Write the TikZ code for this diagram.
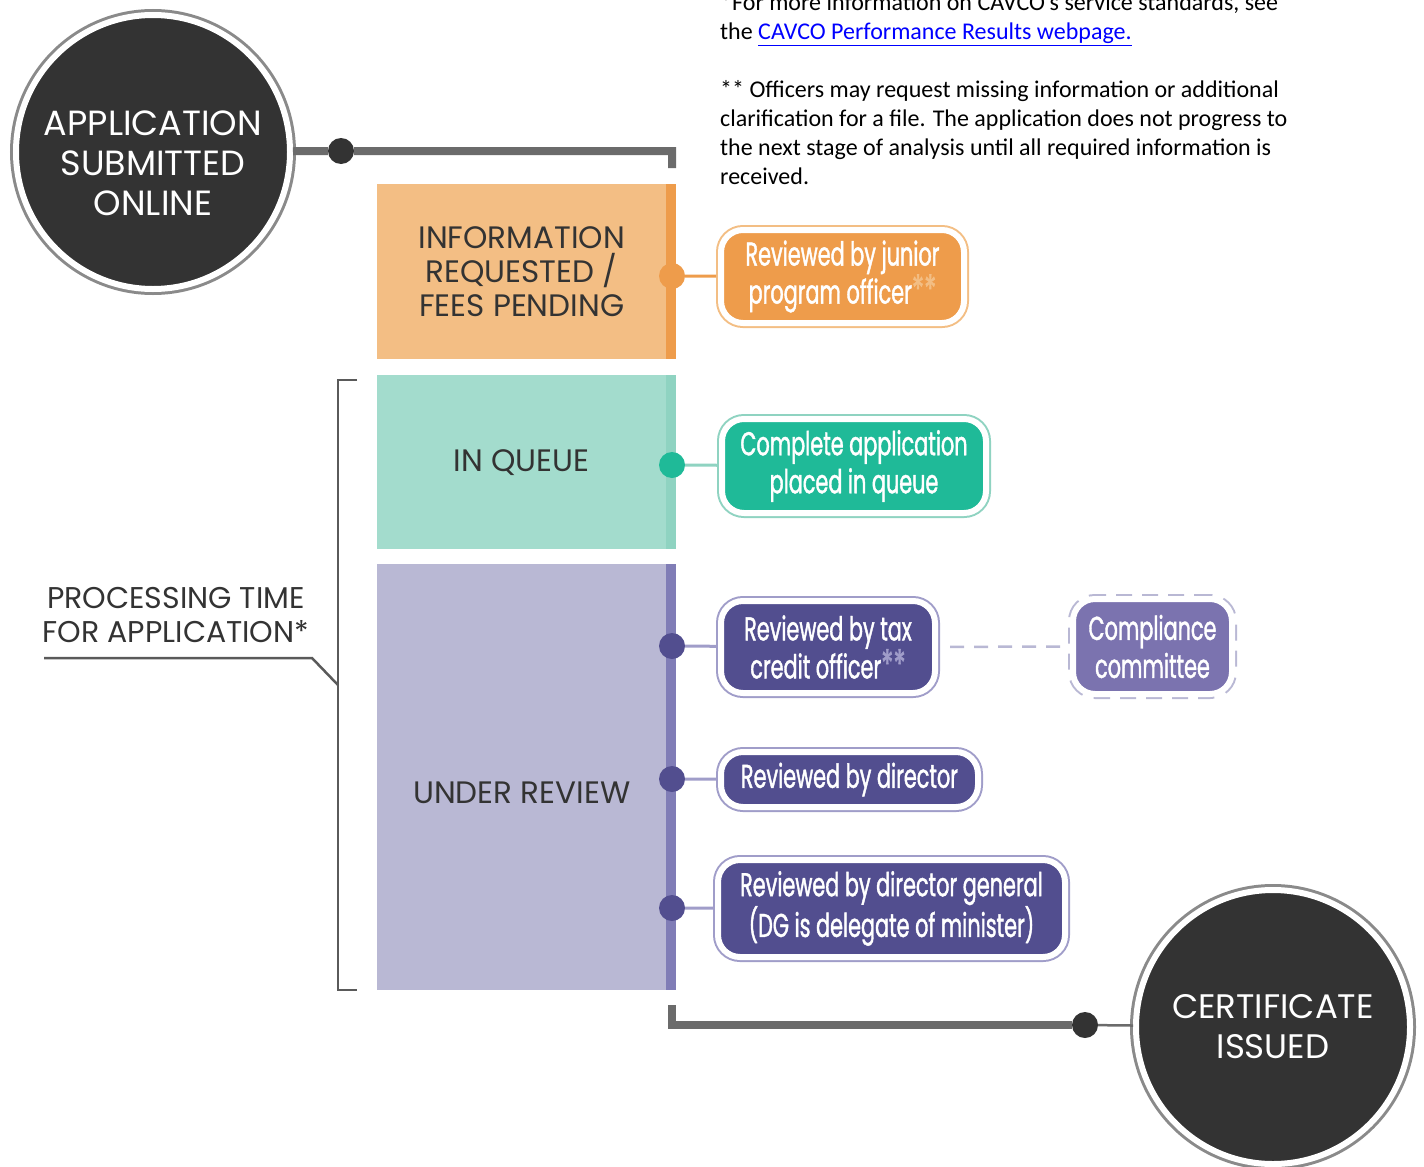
\documentclass[tikz,border=0pt]{standalone}
\usepackage{fontspec}
\setmainfont{Carlito}
\newfontfamily\capsfont{Poppins}
\newfontfamily\pillfont[FakeStretch=0.63, FakeBold=1.2]{Poppins}
\usetikzlibrary{positioning,calc}

\definecolor{circdark}{HTML}{333333}
\definecolor{ringgray}{HTML}{8A8A8A}
\definecolor{linegray}{HTML}{6B6B6B}
\definecolor{bracketgray}{HTML}{5A5A5A}
\definecolor{stagetext}{HTML}{333333}
\definecolor{linkblue}{HTML}{0000FF}
\definecolor{orangelight}{HTML}{F3BE84}
\definecolor{orangedark}{HTML}{EE9C4B}
\definecolor{teallight}{HTML}{A3DCCD}
\definecolor{tealstripe}{HTML}{8FD3C1}
\definecolor{tealdark}{HTML}{1FBA98}
\definecolor{purplelight}{HTML}{B9B8D4}
\definecolor{purplestripe}{HTML}{807DB6}
\definecolor{purpledark}{HTML}{524E8F}
\definecolor{purplering}{HTML}{A09DC9}
\definecolor{purplemid}{HTML}{7B73AF}

\tikzstyle{note} = [anchor=north west, inner sep=0pt, align=left, text=black, font=\fontsize{24}{29}\selectfont]
\tikzstyle{endcircle} = [circle, minimum size=274pt, inner sep=0pt, fill=circdark, draw=white, line width=6pt, preaction={draw=ringgray, line width=12pt}, text=white, align=center, font=\capsfont\fontsize{35}{40}\selectfont]
\tikzstyle{stage} = [rectangle, anchor=north west, minimum width=289pt, inner sep=0pt, align=center, text=stagetext, font=\capsfont\fontsize{31}{34}\selectfont]
\tikzstyle{dot} = [circle, minimum size=26pt, inner sep=0pt]
\tikzstyle{pill} = [rectangle, rounded corners=22pt, inner sep=0pt, align=center, text=white, draw=white, line width=6pt, font=\pillfont\fontsize{33}{38}\selectfont]
\tikzstyle{orangepill} = [pill, fill=orangedark, preaction={draw=orangelight, line width=10pt}]
\tikzstyle{tealpill} = [pill, fill=tealdark, preaction={draw=tealstripe, line width=10pt}]
\tikzstyle{purplepill} = [pill, fill=purpledark, preaction={draw=purplering, line width=10pt}]
\tikzstyle{mainline} = [draw=linegray, line width=8pt]
\tikzstyle{thinline} = [draw=linegray, line width=2.5pt]
\tikzstyle{link} = [line width=3pt, shorten >=2pt]
\tikzstyle{bracket} = [draw=bracketgray, line width=2.5pt]

\begin{document}
\begin{tikzpicture}[x=1pt, y=-1pt]
\useasboundingbox (0,0) rectangle (1424,1167);

\node[note] (note) at (720,-7) {*For more information on CAVCO's service standards, see\\the \textcolor{linkblue}{\underline{CAVCO Performance Results webpage.}}\\[29pt]** Officers may request missing information or additional\\clarification for a file. The application does not progress to\\the next stage of analysis until all required information is\\received.};

\node[endcircle] (app) at (153,152) {\rule{0pt}{48pt}APPLICATION\\SUBMITTED\\ONLINE};
\node[endcircle, font=\capsfont\fontsize{34}{40}\selectfont] (cert) at (1273,1027) {CERTIFICATE\\ISSUED};

\node[stage, fill=orangelight, minimum height=175pt] (info) at (377,184) {INFORMATION\\REQUESTED /\\FEES PENDING};
\node[stage, fill=teallight, minimum height=174pt] (queue) at (377,375) {IN QUEUE};
\node[stage, fill=purplelight, minimum height=426pt, text height=52pt] (review) at (377,564) {UNDER REVIEW};
\fill[orangedark] (info.north east) rectangle ([xshift=10pt]info.south east);
\fill[tealstripe] (queue.north east) rectangle ([xshift=10pt]queue.south east);
\fill[purplestripe] (review.north east) rectangle ([xshift=10pt]review.south east);

\node[dot, fill=circdark] (appdot) at (341,151) {};
\coordinate (append) at (672,168);
\draw[mainline] (app) -- (appdot) -- (appdot -| append) -- (append);

\node[dot, fill=circdark] (certdot) at (1085,1025) {};
\coordinate (revend) at (672,1005);
\draw[mainline] (revend) -- (revend |- certdot) -- (certdot);
\draw[thinline] (certdot) -- (cert);

\node[orangepill, minimum width=243pt, minimum height=93pt] (junior) at (842.5,276.5) {Reviewed by junior\\program officer{\color{orangelight}\fontsize{40}{38}\selectfont**}};
\node[tealpill, minimum width=264pt, minimum height=94pt] (complete) at (854,466) {Complete application\\placed in queue};
\node[purplepill, minimum width=214pt, minimum height=92pt] (tax) at (828,647) {Reviewed by tax\\credit officer{\color{purplering}\fontsize{40}{38}\selectfont**}};
\node[purplepill, minimum width=257pt, minimum height=55pt] (director) at (849.5,779.5) {Reviewed by director};
\node[purplepill, minimum width=347pt, minimum height=97pt] (dg) at (891.5,908.5) {Reviewed by director general\\(DG is delegate of minister)};
\node[pill, fill=purplemid, preaction={draw=purplelight, line width=10pt, dash pattern=on 16pt off 10pt}, minimum width=159pt, minimum height=95pt] (committee) at (1152.5,646.5) {Compliance\\committee};

\node[dot, fill=orangedark] (infodot) at (672,276) {};
\node[dot, fill=tealdark] (queuedot) at (672,465) {};
\node[dot, fill=purpledark] (taxdot) at (672,646) {};
\node[dot, fill=purpledark] (directordot) at (672,779) {};
\node[dot, fill=purpledark] (dgdot) at (672,908) {};

\draw[link, orangedark] (infodot) -- (junior);
\draw[link, tealstripe] (queuedot) -- (complete);
\draw[link, purplering] (taxdot) -- (tax);
\draw[link, purplering] (directordot) -- (director);
\draw[link, purplering] (dgdot) -- (dg);
\draw[purplelight, line width=2.5pt, dash pattern=on 14pt off 10pt, shorten <=12pt, shorten >=3pt] (tax) -- (committee);

\node[align=center, text=stagetext, font=\capsfont\fontsize{30}{34}\selectfont] (proctime) at (176,615) {PROCESSING TIME\\FOR APPLICATION*};
\coordinate (brtip) at (338,685);
\draw[bracket] (357,380) -- (338,380) -- (338,990) -- (357,990);
\draw[bracket] (44,658) -- (312,658) -- (brtip);

\end{tikzpicture}
\end{document}
